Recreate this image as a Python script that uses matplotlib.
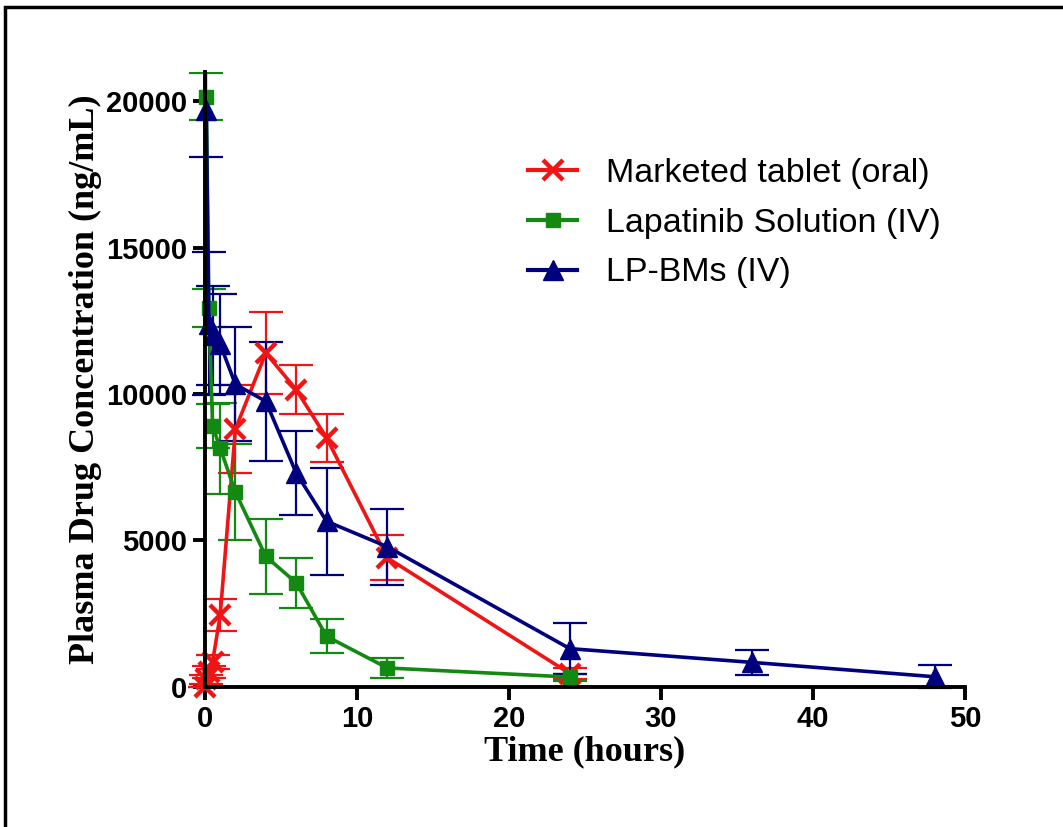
import numpy as np
import matplotlib
matplotlib.use("Agg")
import matplotlib.pyplot as plt
from matplotlib.patches import Rectangle

# sampling times (hours)
t_tab = [0, 0.083, 0.25, 0.5, 1, 2, 4, 6, 8, 12, 24]
t_sol = [0.083, 0.25, 0.5, 1, 2, 4, 6, 8, 12, 24]
t_bm = [0.083, 0.25, 0.5, 1, 2, 4, 6, 8, 12, 24, 36, 48]

# mean plasma concentration (ng/mL) and SD
c_tab = [0, 250, 500, 850, 2450, 8800, 11400, 10150, 8500, 4400, 450]
e_tab = [0, 150, 200, 250, 560, 1500, 1400, 840, 830, 770, 200]

c_sol = [20150, 12950, 8900, 8150, 6650, 4450, 3550, 1720, 640, 330]
e_sol = [800, 650, 750, 1550, 1650, 1280, 850, 580, 340, 120]

c_bm = [19700, 12400, 12000, 11700, 10330, 9750, 7300, 5650, 4780, 1300, 830, 340]
e_bm = [1600, 2450, 1700, 1700, 1950, 2030, 1450, 1830, 1300, 870, 440, 400]

labels = ["Marketed tablet (oral)", "Lapatinib Solution (IV)", "LP-BMs (IV)"]

red = "#f01414"
green = "#128a12"
navy = "#00007f"

fig = plt.figure(figsize=(10.63, 8.27), dpi=100)
ax = fig.add_axes([205 / 1063, 1 - 686.7 / 827, 760 / 1063, 614.7 / 827])

# border of the original figure (only top and left edges visible)
fig.add_artist(Rectangle((5 / 1063, -0.2), 1.2, 0.2 + (827 - 7) / 827,
                         transform=fig.transFigure, fill=False,
                         edgecolor="black", linewidth=2.5))

common = dict(linewidth=2.6, elinewidth=1.6, capsize=12, capthick=1.6,
              clip_on=False)

h1 = ax.errorbar(t_tab, c_tab, yerr=e_tab, color=red, marker="x",
                 markersize=15, label=labels[0], **common)
h2 = ax.errorbar(t_sol, c_sol, yerr=e_sol, color=green, marker="s",
                 markersize=10, label=labels[1], **common)
h3 = ax.errorbar(t_bm, c_bm, yerr=e_bm, color=navy, marker="^",
                 markersize=14, label=labels[2], **common)
h1[0].set_markeredgewidth(3.2)

# error bars may stick out left of the y axis but stop at the top of the axis
clip = Rectangle((-5, -2000), 60, 23000, transform=ax.transData)
for h in (h1, h2, h3):
    for part in h.lines[1] + h.lines[2]:
        part.set_clip_on(True)
        part.set_clip_path(clip)

ax.set_xlim(0, 50)
ax.set_ylim(0, 21000)
ax.set_xticks([0, 10, 20, 30, 40, 50])
ax.set_yticks([0, 5000, 10000, 15000, 20000])

for s in ["top", "right"]:
    ax.spines[s].set_visible(False)
for s in ["left", "bottom"]:
    ax.spines[s].set_linewidth(2.8)

ax.tick_params(direction="out", length=9, width=2.8, pad=4)
for lab in ax.get_xticklabels() + ax.get_yticklabels():
    lab.set_fontfamily("Liberation Sans")
    lab.set_fontweight("bold")
    lab.set_fontsize(21)

ax.set_xlabel("Time (hours)", fontfamily="Liberation Serif",
              fontweight="bold", fontsize=26, labelpad=2)
ax.set_ylabel("Plasma Drug Concentration (ng/mL)", fontfamily="Liberation Serif",
              fontweight="bold", fontsize=26, labelpad=3)

leg = fig.legend([h1[0], h2[0], h3[0]], labels, loc="upper left",
                 bbox_to_anchor=(528 / 1063, 1 - 158 / 827), frameon=False,
                 borderpad=0, borderaxespad=0, handlelength=1.45,
                 handletextpad=0.85, labelspacing=0.55,
                 prop={"family": "Liberation Sans", "size": 24.5})
for lh in leg.legend_handles:
    lh.set_linewidth(3)

fig.savefig("out.png", dpi=100)
